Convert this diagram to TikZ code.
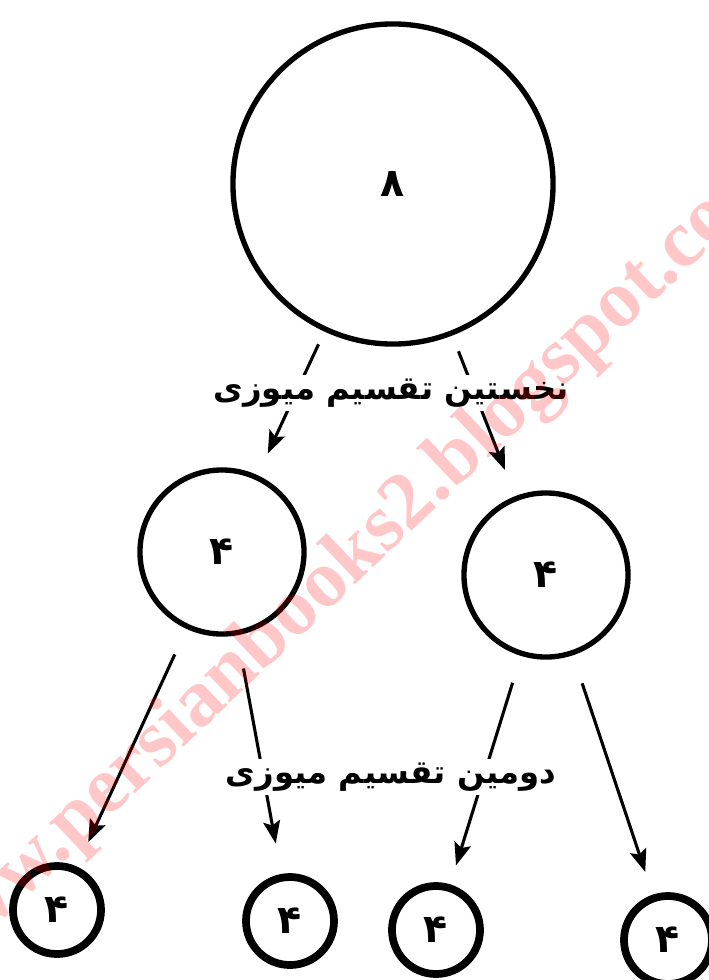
\documentclass[tikz,border=0pt]{standalone}
\usepackage{fontspec}
\usetikzlibrary{arrows.meta}
\newfontfamily\arabicfont[Script=Arabic]{DejaVu Sans}
\newfontfamily\markfont{Liberation Serif}
\TeXXeTstate=1

\begin{document}
\begin{tikzpicture}[x=0.025cm, y=-0.025cm, >={Stealth[length=16pt,width=12pt,inset=3pt]},
	every node/.style={font=\arabicfont\bfseries\fontsize{28}{28}\selectfont},
	cell/.style={circle, draw, line width=3.8pt, inner sep=0pt},
	small/.style={cell, minimum size=2.2cm, line width=5.5pt},
	split/.style={->, line width=2.2pt},
	stage/.style={fill=white, inner sep=3pt, font=\arabicfont\bfseries\fontsize{23}{23}\selectfont}]
	\useasboundingbox (0,0) rectangle (709,980);
	\clip (0,0) rectangle (709,980);
	\node[cell, minimum size=8cm] (P) at (393,184) {۸};
	\node[cell, minimum size=4.1cm] (L) at (222,552) {۴};
	\node[cell, minimum size=4.1cm] (R) at (546,575) {۴};
	\node[small] (L1) at (57,910) {۴};
	\node[small] (L2) at (290,921) {۴};
	\node[small] (R1) at (436,930) {۴};
	\node[small] (R2) at (668,940) {۴};
	\draw[split, shorten <=10pt, shorten >=17pt] (P) -- (L);
	\draw[split, shorten <=12pt, shorten >=20pt] (P) -- (R);
	\draw[split, shorten <=20pt, shorten >=19pt] (L) -- (L1);
	\draw[split, shorten <=24pt, shorten >=22pt] (L) -- (L2);
	\draw[split, shorten <=20pt, shorten >=14pt] (R) -- (R1);
	\draw[split, shorten <=21pt, shorten >=17pt] (R) -- (R2);
	\node[stage] (lab1) at (391,393) {\beginR نخستین تقسیم میوزی\endR};
	\node[stage] (lab2) at (391,777) {\beginR دومین تقسیم میوزی\endR};
	\node[rotate=43.5, text=red, text opacity=0.22, font=\markfont\bfseries\fontsize{58}{58}\selectfont] (mark) at (348,565) {www.persianbooks2.blogspot.com};
\end{tikzpicture}
\end{document}
